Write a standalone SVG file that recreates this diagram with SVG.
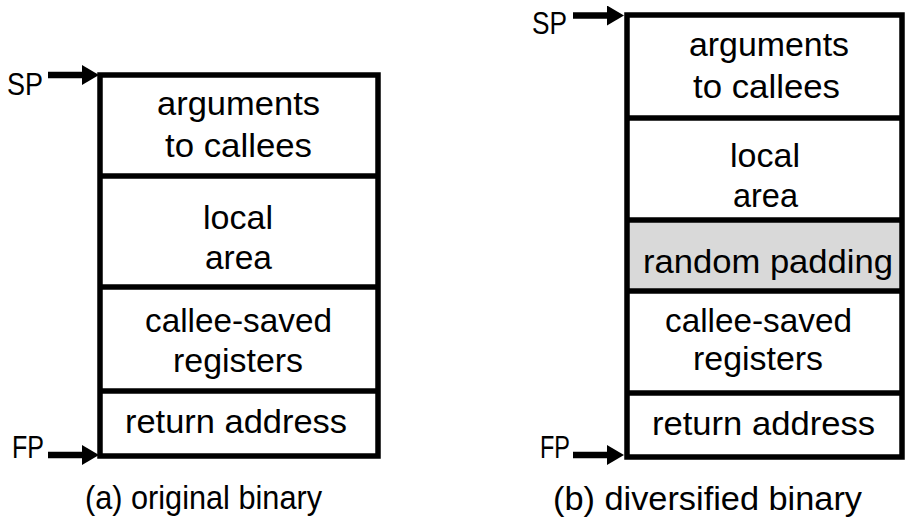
<svg xmlns="http://www.w3.org/2000/svg" width="905" height="523" viewBox="0 0 905 523">
  <defs>
    <style>
      .frame { fill: none; stroke: #000; stroke-width: 5.5; stroke-linejoin: miter; }
      .div { stroke: #000; stroke-width: 5.5; }
      .pad { fill: #d9d9d9; }
      .lbl { font-family: "Liberation Sans", Arial, sans-serif; font-size: 34px; fill: #000; text-anchor: middle; }
      .ptr { font-family: "Liberation Sans", Arial, sans-serif; font-size: 31px; fill: #000; }
      .arrow { stroke: #000; stroke-width: 6.5; marker-end: url(#head); }
    </style>
    <marker id="head" markerUnits="userSpaceOnUse" viewBox="0 0 17 20" refX="6" refY="10" markerWidth="17" markerHeight="20" orient="auto">
      <path d="M0,0 L17,10 L0,20 Z" fill="#000"/>
    </marker>
  </defs>

  <!-- (a) original stack frame -->
  <g id="frame-a">
    <rect class="frame" x="100" y="75" width="278" height="381"/>
    <line class="div" x1="100" y1="176" x2="378" y2="176"/>
    <line class="div" x1="100" y1="287" x2="378" y2="287"/>
    <line class="div" x1="100" y1="391" x2="378" y2="391"/>
  </g>
  <g id="a-args">
    <text class="lbl" x="238.5" y="115" textLength="163" lengthAdjust="spacingAndGlyphs">arguments</text>
    <text class="lbl" x="238.5" y="157" textLength="147" lengthAdjust="spacingAndGlyphs">to callees</text>
  </g>
  <g id="a-local">
    <text class="lbl" x="238" y="229" textLength="70" lengthAdjust="spacingAndGlyphs">local</text>
    <text class="lbl" x="238.5" y="269" textLength="67" lengthAdjust="spacingAndGlyphs">area</text>
  </g>
  <g id="a-saved">
    <text class="lbl" x="238.5" y="332" textLength="187" lengthAdjust="spacingAndGlyphs">callee-saved</text>
    <text class="lbl" x="238" y="372" textLength="130" lengthAdjust="spacingAndGlyphs">registers</text>
  </g>
  <g id="a-ret">
    <text class="lbl" x="236" y="433" textLength="222" lengthAdjust="spacingAndGlyphs">return address</text>
  </g>
  <g id="a-sp">
    <text class="ptr" x="7" y="95" textLength="36" lengthAdjust="spacingAndGlyphs">SP</text>
  </g>
  <g id="a-fp">
    <text class="ptr" x="12" y="458" textLength="32" lengthAdjust="spacingAndGlyphs">FP</text>
  </g>
  <text class="lbl" x="203.5" y="509" textLength="237" lengthAdjust="spacingAndGlyphs">(a) original binary</text>

  <!-- (b) diversified stack frame -->
  <g id="frame-b">
    <rect class="pad" x="627" y="220" width="275" height="71"/>
    <rect class="frame" x="627" y="15" width="275" height="442"/>
    <line class="div" x1="627" y1="118" x2="902" y2="118"/>
    <line class="div" x1="627" y1="220" x2="902" y2="220"/>
    <line class="div" x1="627" y1="291" x2="902" y2="291"/>
    <line class="div" x1="627" y1="393" x2="902" y2="393"/>
  </g>
  <g id="b-args">
    <text class="lbl" x="769" y="56" textLength="160" lengthAdjust="spacingAndGlyphs">arguments</text>
    <text class="lbl" x="766.5" y="98" textLength="147" lengthAdjust="spacingAndGlyphs">to callees</text>
  </g>
  <g id="b-local">
    <text class="lbl" x="765" y="167" textLength="70" lengthAdjust="spacingAndGlyphs">local</text>
    <text class="lbl" x="765.5" y="207" textLength="65" lengthAdjust="spacingAndGlyphs">area</text>
  </g>
  <g id="b-pad">
    <text class="lbl" x="768" y="273" textLength="250" lengthAdjust="spacingAndGlyphs">random padding</text>
  </g>
  <g id="b-saved">
    <text class="lbl" x="758.5" y="332" textLength="187" lengthAdjust="spacingAndGlyphs">callee-saved</text>
    <text class="lbl" x="758" y="370" textLength="130" lengthAdjust="spacingAndGlyphs">registers</text>
  </g>
  <g id="b-ret">
    <text class="lbl" x="763.5" y="435" textLength="223" lengthAdjust="spacingAndGlyphs">return address</text>
  </g>
  <g id="b-sp">
    <text class="ptr" x="532" y="34" textLength="35" lengthAdjust="spacingAndGlyphs">SP</text>
  </g>
  <g id="b-fp">
    <text class="ptr" x="540" y="458" textLength="30" lengthAdjust="spacingAndGlyphs">FP</text>
  </g>
  <text class="lbl" x="707.5" y="510" textLength="309" lengthAdjust="spacingAndGlyphs">(b) diversified binary</text>

  <!-- stack / frame pointer arrows -->
  <g id="connectors">
    <line class="arrow" x1="48" y1="75" x2="88" y2="75"/>
    <line class="arrow" x1="48" y1="455" x2="88" y2="455"/>
    <line class="arrow" x1="573" y1="15.5" x2="613" y2="15.5"/>
    <line class="arrow" x1="573" y1="455" x2="613" y2="455"/>
  </g>
</svg>
